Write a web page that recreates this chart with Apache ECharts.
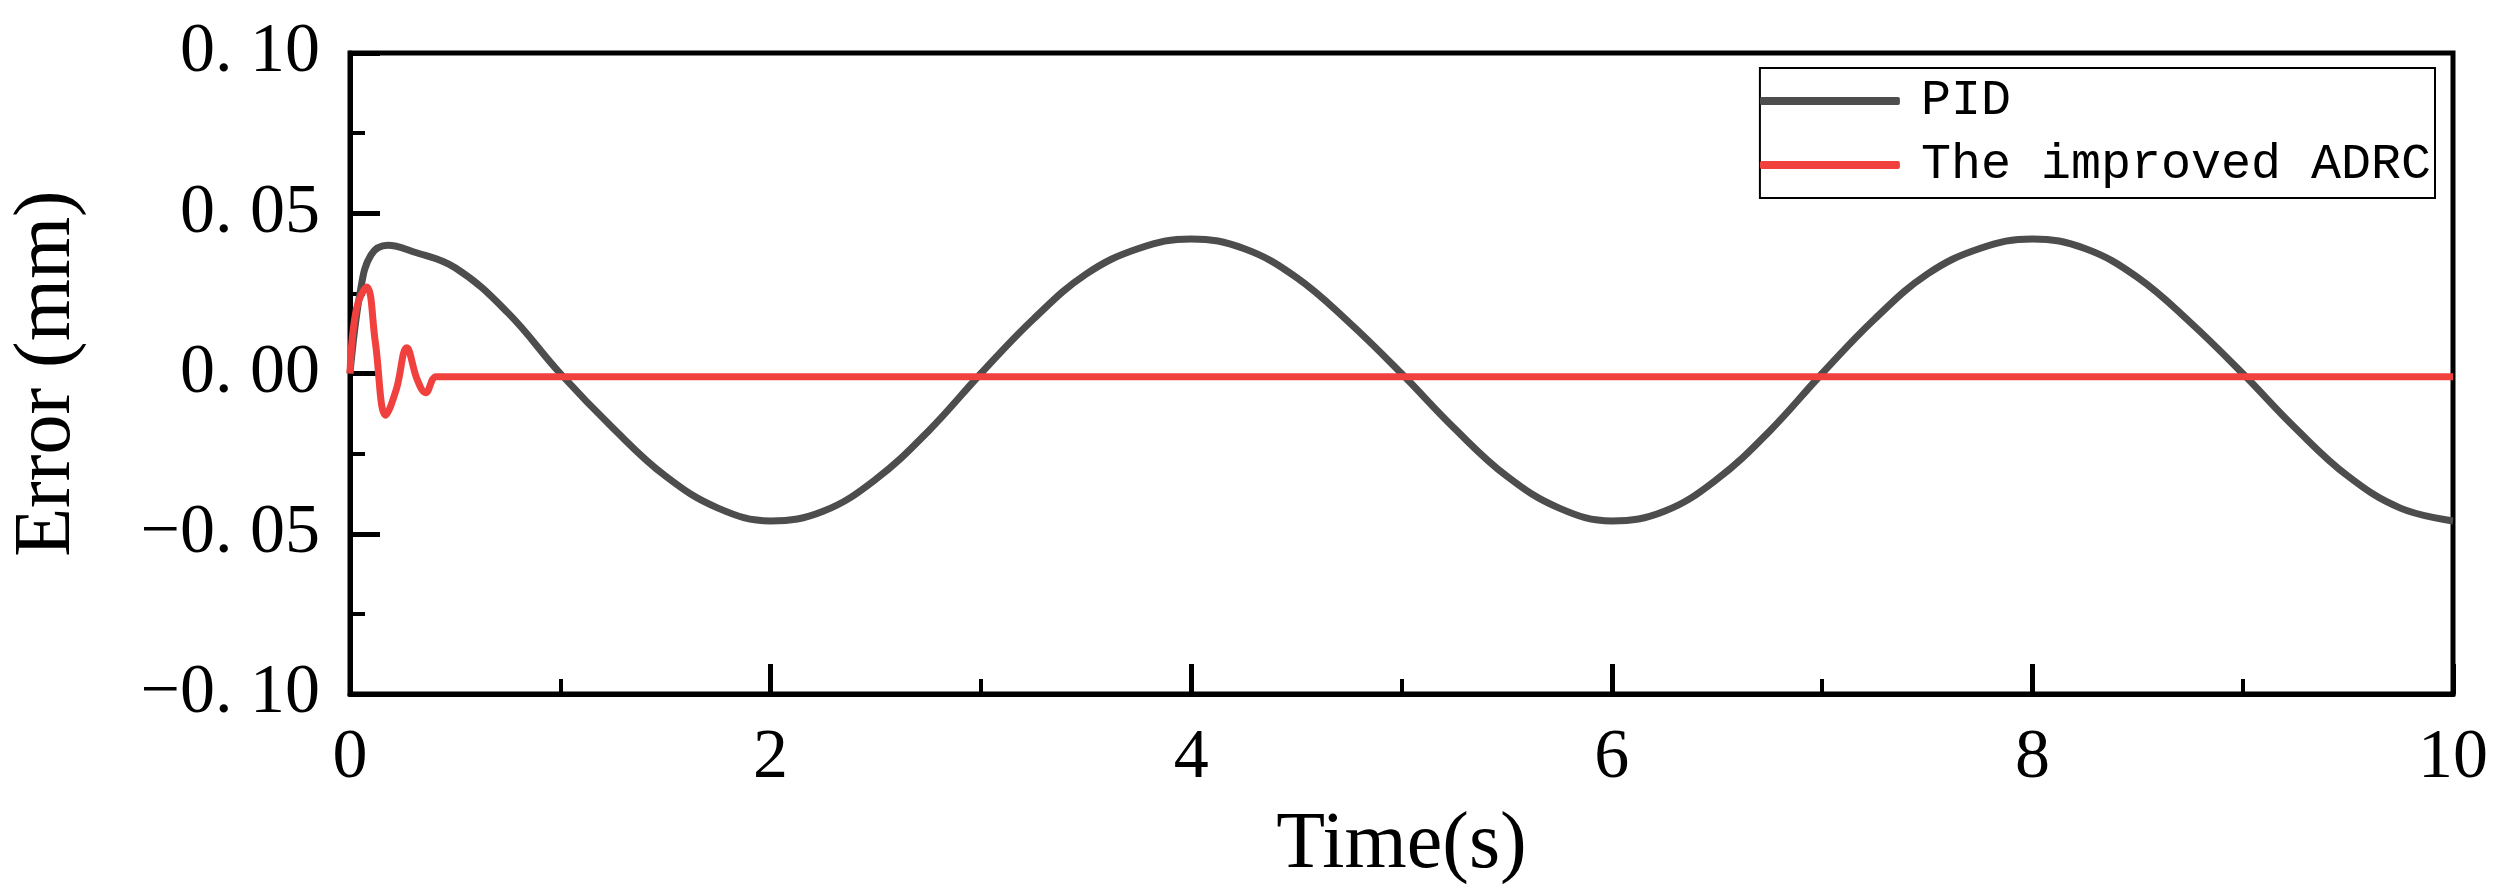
<!DOCTYPE html>
<html>
<head>
<meta charset="utf-8">
<script src="https://cdn.jsdelivr.net/npm/echarts@6/dist/echarts.min.js"></script>
<style>html,body{margin:0;background:#fff}#chart{width:2503px;height:891px}</style>
</head>
<body>
<div id="chart"></div>
<script>
const pidTime = [0, 0.05, 0.1, 0.18, 0.3, 0.5, 0.75, 1, 1.25, 1.5, 1.75, 2, 2.25, 2.5, 2.75, 3, 3.25, 3.5, 3.75, 4,
    4.25, 4.5, 4.75, 5, 5.25, 5.5, 5.75, 6, 6.25, 6.5, 6.75, 7, 7.25, 7.5, 7.75, 8, 8.25, 8.5, 8.75, 9, 9.25, 9.5, 9.75, 10];
const pidError = [0, 0.026, 0.037, 0.040, 0.038, 0.033, 0.019, 0.0, -0.017, -0.032, -0.042, -0.046, -0.043, -0.033, -0.018, 0.0,
    0.017, 0.031, 0.039, 0.042, 0.039, 0.030, 0.016, 0.0, -0.017, -0.032, -0.042, -0.046, -0.043, -0.033, -0.018, 0.0,
    0.017, 0.031, 0.039, 0.042, 0.039, 0.030, 0.016, 0.0, -0.017, -0.032, -0.042, -0.046];
const adrcTime = [0, 0.03, 0.08, 0.12, 0.17, 0.22, 0.27, 0.32, 0.36, 0.41, 0.5, 10];
const adrcError = [0, 0.020, 0.027, 0.010, -0.013, -0.005, 0.008, -0.002, -0.006, -0.001, -0.001, -0.001];
const yTickLabels = {'0.1': '0. 10', '0.05': '0. 05', '0': '0. 00', '-0.05': '\u22120. 05', '-0.1': '\u22120. 10'};

const zip = (xs, ys) => xs.map((x, i) => [x, ys[i]]);
const font = '"Liberation Serif", serif';
const chart = echarts.init(document.getElementById('chart'));

chart.setOption({
    animation: false,
    grid: {left: 337, right: 50, top: 53, bottom: 186, show: true, borderColor: '#000', borderWidth: 5},
    legend: {
        right: 68, top: 68, orient: 'vertical', itemGap: 14,
        itemWidth: 140, itemHeight: 8, padding: [8, 4, 8, 0],
        borderColor: '#000', borderWidth: 2,
        textStyle: {fontFamily: '"Liberation Mono", monospace', fontSize: 50, color: '#000', padding: [0, 0, 0, 16]},
        data: [{name: 'PID', icon: 'roundRect'}, {name: 'The improved ADRC', icon: 'roundRect'}]
    },
    xAxis: {
        type: 'value', min: 0, max: 10, interval: 2,
        name: 'Time(s)', nameLocation: 'middle', nameGap: 112,
        nameTextStyle: {fontFamily: font, fontSize: 80, color: '#000'},
        axisLine: {onZero: false, lineStyle: {color: '#000', width: 5}},
        axisTick: {inside: true, length: 30, lineStyle: {width: 5}},
        minorTick: {show: true, splitNumber: 2, length: 15, lineStyle: {color: '#000', width: 4}},
        axisLabel: {fontFamily: font, fontSize: 70, color: '#000', margin: 30},
        splitLine: {show: false}
    },
    yAxis: {
        type: 'value', min: -0.1, max: 0.1, interval: 0.05,
        name: 'Error (mm)', nameLocation: 'middle', nameGap: 262,
        nameTextStyle: {fontFamily: font, fontSize: 80, color: '#000'},
        axisLine: {lineStyle: {color: '#000', width: 5}},
        axisTick: {inside: true, length: 30, lineStyle: {width: 5}},
        minorTick: {show: true, splitNumber: 2, length: 15, lineStyle: {color: '#000', width: 4}},
        axisLabel: {fontFamily: font, fontSize: 70, color: '#000', margin: 30,
            formatter: v => yTickLabels[String(Math.round(v * 100) / 100)] || ''},
        splitLine: {show: false}
    },
    series: [
        {name: 'PID', type: 'line', smooth: 0.4, showSymbol: false,
         color: '#4d4d4d', lineStyle: {width: 7}, data: zip(pidTime, pidError)},
        {name: 'The improved ADRC', type: 'line', smooth: 0.4, showSymbol: false,
         color: '#f0413f', lineStyle: {width: 7}, data: zip(adrcTime, adrcError)}
    ]
});
</script>
</body>
</html>
